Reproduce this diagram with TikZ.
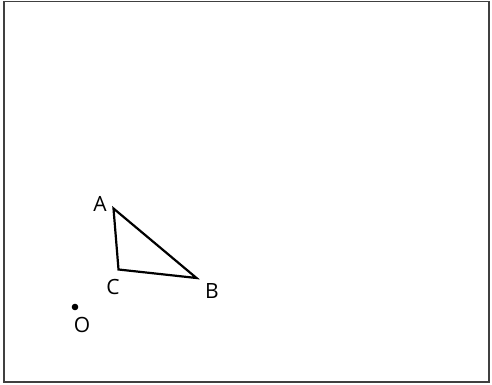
\documentclass[tikz,border=0pt]{standalone}
\usepackage{fontspec}
\setmainfont{Open Sans}
\begin{document}
\begin{tikzpicture}[x=1pt,y=-1pt,
  lbl/.style={font=\fontsize{21}{24}\selectfont, inner sep=0pt},
  tri/.style={line width=2.2pt, line join=miter}]
\useasboundingbox (0,0) rectangle (492,385);
\draw[line width=1.4pt, black!75] (4,1.5) rectangle (489,382);
\coordinate (A) at (113.5,208.5);
\coordinate (C) at (118.5,269.5);
\coordinate (B) at (196.5,278);
\draw[tri] (A) -- (B) -- (C) -- cycle;
\node[lbl] (la) at (100,204) {A};
\node[lbl] (lc) at (113,287) {C};
\node[lbl] (lb) at (212,291) {B};
\fill (75,307) circle (3.3pt);
\node[lbl] (lo) at (82,325) {O};
\end{tikzpicture}
\end{document}
